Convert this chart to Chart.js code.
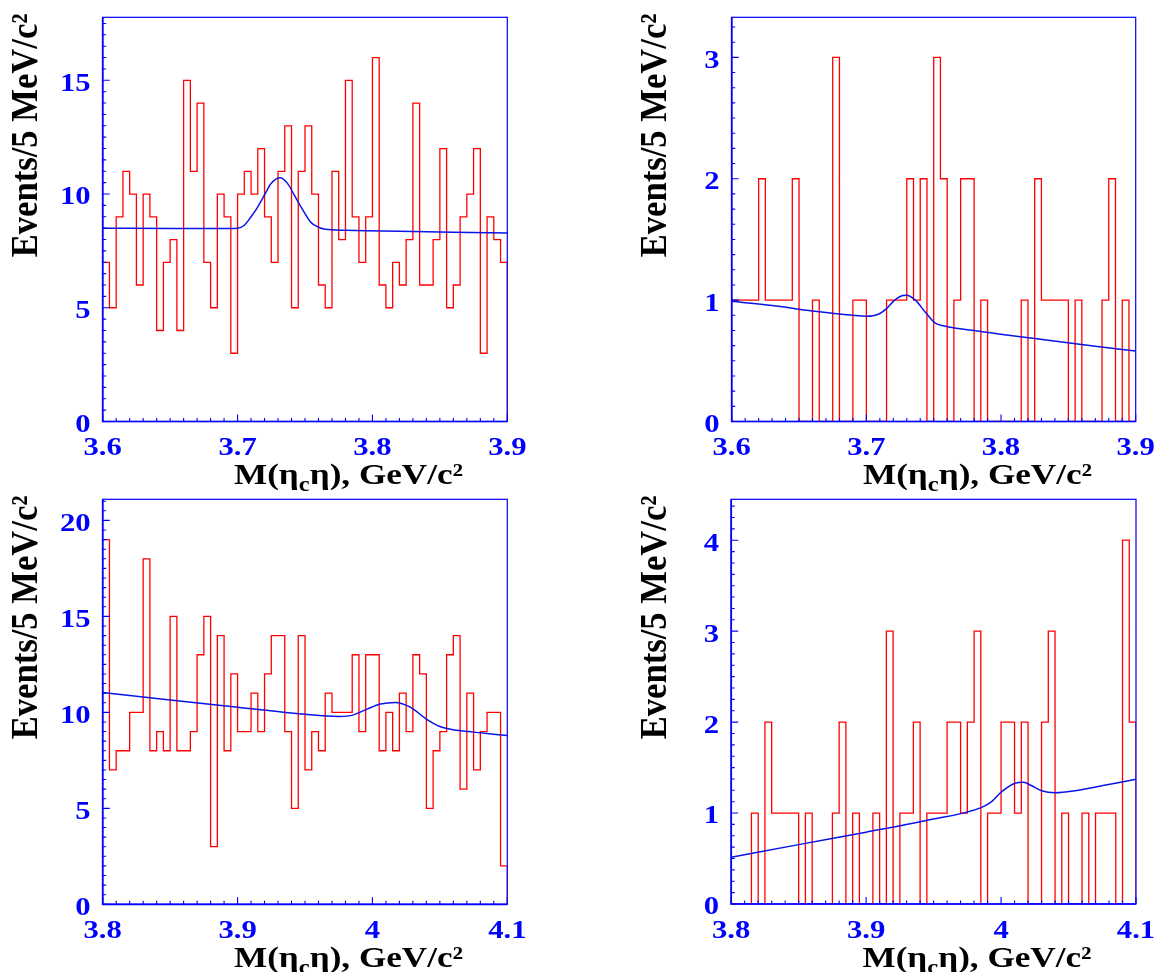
<!DOCTYPE html>
<html>
<head>
<meta charset="utf-8">
<title>M(eta_c eta) spectra</title>
<script src="https://cdn.jsdelivr.net/npm/chart.js@4.4.1/dist/chart.umd.min.js"></script>
<style>
  html, body { margin: 0; padding: 0; background: #fff; }
  #wrap { position: relative; width: 1155px; height: 972px; overflow: hidden; }
  #wrap canvas { position: absolute; }
</style>
</head>
<body>
<div id="wrap">
  <canvas id="pA"></canvas>
  <canvas id="pB"></canvas>
  <canvas id="pC"></canvas>
  <canvas id="pD"></canvas>
</div>
<script>
// ---- data ----
const binWidth = 0.005; // 5 MeV bins
const rangeUpper = [3.6, 3.9];
const rangeLower = [3.8, 4.1];
const xTicksUpper = [3.6, 3.7, 3.8, 3.9];
const xTicksLower = [3.8, 3.9, 4.0, 4.1];

const yTicksA = [0, 5, 10, 15];
const yTicksB = [0, 1, 2, 3];
const yTicksC = [0, 5, 10, 15, 20];
const yTicksD = [0, 1, 2, 3, 4];
const yMaxes = [17.77, 3.33, 21.1, 4.45];

const countsA = [7, 5, 9, 11, 10, 6, 10, 9, 4, 7, 8, 4, 15, 11, 14, 7, 5, 10, 9, 3, 10, 11, 10, 12, 9, 7, 11, 13, 5, 11,
                 13, 10, 6, 5, 11, 8, 15, 9, 7, 9, 16, 6, 5, 7, 6, 8, 14, 6, 6, 8, 12, 5, 6, 9, 10, 12, 3, 9, 8, 7];
const countsB = [1, 1, 1, 1, 2, 1, 1, 1, 1, 2, 0, 0, 1, 0, 0, 3, 0, 0, 1, 1, 0, 0, 0, 1, 1, 1, 2, 1, 2, 0,
                 3, 2, 0, 1, 2, 2, 0, 1, 0, 0, 0, 0, 0, 1, 0, 2, 1, 1, 1, 1, 0, 1, 0, 0, 0, 1, 2, 0, 1, 0];
const countsC = [19, 7, 8, 8, 10, 10, 18, 8, 9, 8, 15, 8, 8, 9, 13, 15, 3, 14, 8, 12, 9, 9, 11, 9, 12, 14, 14, 9, 5, 14,
                 7, 9, 8, 11, 10, 10, 10, 13, 9, 13, 13, 8, 10, 8, 11, 9, 13, 12, 5, 8, 9, 13, 14, 6, 11, 7, 9, 10, 10, 2];
const countsD = [0, 0, 0, 1, 0, 2, 1, 1, 1, 1, 0, 1, 0, 0, 0, 1, 2, 0, 1, 0, 0, 1, 0, 3, 0, 1, 1, 2, 0, 1,
                 1, 1, 2, 2, 1, 2, 3, 0, 1, 1, 2, 2, 1, 2, 0, 0, 2, 3, 0, 1, 0, 0, 1, 0, 1, 1, 1, 0, 4, 2];

// fit curves
const fitAx = [3.600, 3.650, 3.690, 3.700, 3.705, 3.710, 3.715, 3.720, 3.725, 3.7315, 3.737, 3.742, 3.747, 3.754, 3.757, 3.765, 3.780, 3.820, 3.860, 3.900];
const fitAy = [8.50, 8.49, 8.48, 8.50, 8.63, 9.00, 9.44, 9.96, 10.47, 10.72, 10.47, 9.96, 9.44, 8.78, 8.63, 8.45, 8.41, 8.36, 8.32, 8.29];
const fitBx = [3.600, 3.630, 3.660, 3.690, 3.700, 3.705, 3.710, 3.715, 3.720, 3.725, 3.7297, 3.7364, 3.7438, 3.7512, 3.7587, 3.786, 3.835, 3.870, 3.900];
const fitBy = [0.99, 0.955, 0.91, 0.875, 0.868, 0.872, 0.89, 0.93, 0.99, 1.03, 1.04, 1.00, 0.90, 0.81, 0.785, 0.74, 0.67, 0.62, 0.58];
const fitCx = [3.800, 3.850, 3.900, 3.950, 3.975, 3.986, 3.996, 4.006, 4.017, 4.028, 4.040, 4.050, 4.060, 4.075, 4.100];
const fitCy = [11.04, 10.65, 10.27, 9.90, 9.79, 9.87, 10.17, 10.43, 10.51, 10.27, 9.65, 9.26, 9.09, 8.97, 8.79];
const fitDx = [3.800, 3.850, 3.900, 3.9437, 3.9857, 3.993, 4.0005, 4.0104, 4.0165, 4.0227, 4.030, 4.040, 4.0548, 4.0746, 4.100];
const fitDy = [0.513, 0.653, 0.79, 0.916, 1.063, 1.125, 1.235, 1.327, 1.338, 1.30, 1.246, 1.224, 1.246, 1.30, 1.371];

const yTitle = 'Events/5 MeV/c\u00B2';

// ---- look ----
const axisBlue = '#0000ff';
const histRed = '#ff0000';
const fitBlue = '#0a14e6';
const serif = '"Liberation Serif", "Times New Roman", serif';
const stretchX = 1.18; // the figure is a bit wider than the font

// where each panel sits (canvas box and plot area inside it)
const panels = [
  { id: 'pA', left: 0,   top: 0,   w: 577, h: 495, area: [102.7, 17.3, 507.3, 421.5], counts: countsA, fx: fitAx, fy: fitAy, range: rangeUpper, xt: xTicksUpper, yt: yTicksA, ymax: yMaxes[0], yMinor: 0.5 },
  { id: 'pB', left: 577, top: 0,   w: 578, h: 495, area: [154.7, 17.3, 558.7, 421.5], counts: countsB, fx: fitBx, fy: fitBy, range: rangeUpper, xt: xTicksUpper, yt: yTicksB, ymax: yMaxes[1], yMinor: 0.125 },
  { id: 'pC', left: 0,   top: 488, w: 577, h: 484, area: [102.7, 11.3, 507.3, 416.3], counts: countsC, fx: fitCx, fy: fitCy, range: rangeLower, xt: xTicksLower, yt: yTicksC, ymax: yMaxes[2], yMinor: 0.5 },
  { id: 'pD', left: 577, top: 488, w: 578, h: 484, area: [154.2, 11.3, 559.0, 416.0], counts: countsD, fx: fitDx, fy: fitDy, range: rangeLower, xt: xTicksLower, yt: yTicksD, ymax: yMaxes[3], yMinor: 0.125 }
];

const fmt = v => String(Math.round(v * 10) / 10);

function histPoints(counts, lo) {
  const pts = counts.map((c, i) => ({ x: lo + i * binWidth, y: c }));
  const hi = lo + counts.length * binWidth;
  pts.push({ x: hi, y: counts[counts.length - 1] }, { x: hi, y: 0 });
  return pts;
}

function wideText(ctx, text, x, y, align) {
  ctx.save();
  ctx.translate(x, y);
  ctx.scale(stretchX, 1);
  ctx.textAlign = align;
  ctx.fillText(text, 0, 0);
  ctx.restore();
}

// ROOT-like frame: inside ticks, blue labels, black titles
const rootAxes = {
  id: 'rootAxes',
  afterDraw(chart, args, o) {
    const { ctx, chartArea: a } = chart;
    const xs = chart.scales.x, ys = chart.scales.y;
    ctx.save();
    ctx.strokeStyle = axisBlue;
    ctx.lineWidth = 1.2;
    ctx.strokeRect(a.left, a.top, a.right - a.left, a.bottom - a.top);
    ctx.lineWidth = 1.7;
    ctx.beginPath();
    ctx.moveTo(a.left, a.top);
    ctx.lineTo(a.left, a.bottom);
    ctx.lineTo(a.right, a.bottom);
    ctx.stroke();

    ctx.beginPath();
    ctx.lineWidth = 1.1;
    const nx = Math.round((xs.max - xs.min) / 0.01);
    for (let i = 0; i <= nx; i++) {
      const v = xs.min + i * 0.01;
      const px = xs.getPixelForValue(v);
      const major = xs.ticks.some(t => Math.abs(t.value - v) < 1e-6);
      ctx.moveTo(px, a.bottom);
      ctx.lineTo(px, a.bottom - (major ? 7 : 3.5));
    }
    const ny = Math.floor(ys.max / o.yMinor + 1e-6);
    for (let i = 0; i <= ny; i++) {
      const v = i * o.yMinor;
      const py = ys.getPixelForValue(v);
      const major = ys.ticks.some(t => Math.abs(t.value - v) < 1e-6);
      ctx.moveTo(a.left, py);
      ctx.lineTo(a.left + (major ? 7 : 3.5), py);
    }
    ctx.stroke();

    // tick labels
    ctx.fillStyle = axisBlue;
    ctx.font = 'bold 26px ' + serif;
    ctx.textBaseline = 'alphabetic';
    xs.ticks.forEach(t => wideText(ctx, fmt(t.value), xs.getPixelForValue(t.value), a.bottom + 33.5, 'center'));
    ys.ticks.forEach(t => wideText(ctx, fmt(t.value), a.left - 12, ys.getPixelForValue(t.value) + 10.4, 'right'));

    // x title: M(eta_c eta), GeV/c^2
    ctx.fillStyle = '#000';
    const big = 'bold 30px ' + serif, small = 'bold 21px ' + serif;
    const parts = [
      { t: 'M(\u03B7', f: big, dy: 0 },
      { t: 'c', f: small, dy: 7 },
      { t: '\u03B7), GeV/c\u00B2', f: big, dy: 0 }
    ];
    let natural = 0;
    parts.forEach(p => { ctx.font = p.f; p.w = ctx.measureText(p.t).width; natural += p.w; });
    const sx = 229 / natural;
    ctx.save();
    ctx.translate(a.left + 131.3, a.bottom + 62.5);
    ctx.scale(sx, 1);
    ctx.textAlign = 'left';
    let cx = 0;
    parts.forEach(p => { ctx.font = p.f; ctx.fillText(p.t, cx, p.dy); cx += p.w; });
    ctx.restore();

    // y title, rotated
    ctx.font = 'bold 32px ' + serif;
    const ylen = ctx.measureText(yTitle).width;
    ctx.save();
    ctx.translate(a.left - 65.5, a.top - 4);
    ctx.rotate(-Math.PI / 2);
    ctx.scale(244 / ylen, stretchX);
    ctx.textAlign = 'right';
    ctx.fillText(yTitle, 0, 0);
    ctx.restore();

    ctx.restore();
  }
};

panels.forEach(p => {
  const cv = document.getElementById(p.id);
  cv.width = p.w; cv.height = p.h;
  cv.style.left = p.left + 'px'; cv.style.top = p.top + 'px';
  cv.style.width = p.w + 'px'; cv.style.height = p.h + 'px';
  const [aL, aT, aR, aB] = p.area;

  new Chart(cv.getContext('2d'), {
    type: 'line',
    data: {
      datasets: [
        {
          label: 'fit',
          data: p.fx.map((x, i) => ({ x, y: p.fy[i] })),
          borderColor: fitBlue,
          borderWidth: 1.5,
          pointRadius: 0,
          fill: false,
          cubicInterpolationMode: 'monotone',
          order: 0
        },
        {
          label: 'data',
          data: histPoints(p.counts, p.range[0]),
          borderColor: histRed,
          borderWidth: 1.3,
          pointRadius: 0,
          fill: false,
          stepped: 'before',
          order: 1
        }
      ]
    },
    options: {
      responsive: false,
      animation: false,
      events: [],
      layout: { padding: { left: 0, top: aT, right: p.w - aR, bottom: 0 } },
      plugins: {
        legend: { display: false },
        tooltip: { enabled: false },
        rootAxes: { yMinor: p.yMinor }
      },
      scales: {
        x: {
          type: 'linear',
          min: p.range[0],
          max: p.range[1],
          grid: { display: false },
          border: { display: false },
          ticks: { display: false },
          afterBuildTicks: s => { s.ticks = p.xt.map(value => ({ value })); },
          afterFit: s => { s.height = p.h - aB; }
        },
        y: {
          type: 'linear',
          min: 0,
          max: p.ymax,
          grid: { display: false },
          border: { display: false },
          ticks: { display: false },
          afterBuildTicks: s => { s.ticks = p.yt.map(value => ({ value })); },
          afterFit: s => { s.width = aL; }
        }
      }
    },
    plugins: [rootAxes]
  });
});
</script>
</body>
</html>
